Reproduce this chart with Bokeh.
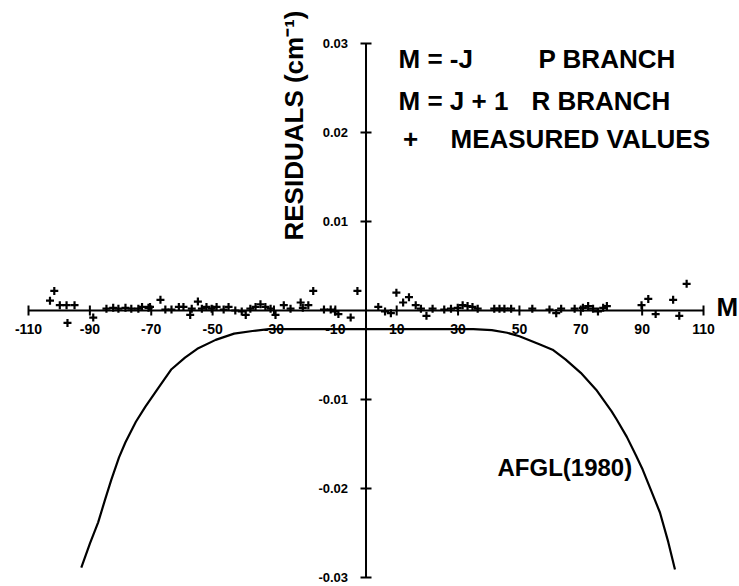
import numpy as np
from bokeh.plotting import figure
from bokeh.models import Range1d
from bokeh.core.properties import value
from bokeh.embed import file_html
from bokeh.resources import INLINE

# ---------------- data ----------------
x_ticks = [-110, -90, -70, -50, -30, -10, 10, 30, 50, 70, 90, 110]
x_tick_labels = ["-110", "-90", "-70", "-50", "-30", "-10", "10", "30", "50", "70", "90", "110"]
y_ticks = [0.03, 0.02, 0.01, -0.01, -0.02, -0.03]
y_tick_labels = ["0.03", "0.02", "0.01", "-0.01", "-0.02", "-0.03"]

measured_m = [-103, -101.6, -99.8, -97.6, -97.3, -95, -88.9, -84.6, -82.4, -80.7,
              -78.4, -76.5, -74.2, -73, -70.9, -70.4, -67, -65.4, -63.4, -61,
              -59.5, -57.3, -56.8, -54.8, -53.5, -52, -50.3, -48.7, -46.4, -44.8,
              -42.6, -40.5, -39.2, -37.7, -36, -34.4, -32.8, -31.1, -29.5, -26.8,
              -24.6, -21.3, -20.6, -18.8, -17.2, -13.7, -11.5, -10.1, -9, -5,
              -2.8,
              4, 6.2, 8.1, 9.9, 12.1, 14, 16.2, 17.9, 19.7, 21.7,
              25.5, 27.7, 29.9, 31.5, 33.1, 34.7, 36.4, 41.8, 43.5, 45.1,
              47.3, 54.2, 59.8, 62, 63.6, 68, 70.7, 72.4, 74, 75.6,
              77.3, 78.5, 89.8, 92, 94.4, 100.1, 102.1, 104.5]
measured_res = [0.0011, 0.0022, 0.0006, 0.0006, -0.0014, 0.0006, -0.0008, 0.0002, 0.0003, 0.0002,
                0.0003, 0.0002, 0.0002, 0.0004, 0.0003, 0.0004, 0.0012, 0.0001, 0.0001, 0.0004,
                0.0004, -0.0005, 0.0002, 0.0010, 0.0002, 0.0004, 0.0002, 0.0004, 0.0001, 0.0004,
                0.0000, -0.0001, -0.0005, 0.0002, 0.0004, 0.0007, 0.0004, 0.0002, -0.0005, 0.0006,
                0.0002, 0.0009, 0.0003, 0.0006, 0.0022, 0.0001, 0.0001, -0.0001, -0.0004, -0.0008,
                0.0022,
                0.0004, -0.0001, -0.0003, 0.0020, 0.0009, 0.0015, 0.0006, 0.0002, -0.0006, 0.0002,
                0.0001, 0.0002, 0.0003, 0.0006, 0.0005, 0.0004, 0.0002, 0.0002, 0.0002, 0.0002,
                0.0002, 0.0002, 0.0001, -0.0003, 0.0002, 0.0002, 0.0003, 0.0005, 0.0002, -0.0001,
                0.0003, 0.0005, 0.0006, 0.0013, -0.0004, 0.0012, -0.0006, 0.0030]

afgl_m = [-92.8, -90, -87.3, -85, -83, -80.5, -78.4, -75, -71.9, -67.5,
          -63.4, -59, -55, -49, -43, -37, -31.7, -20, 0, 20,
          35, 41, 46, 50, 56.5, 60.8, 65, 70, 75, 80,
          81.7, 85, 88, 90.2, 93, 95.8, 98.5, 100.7]
afgl_res = [-0.0289, -0.0262, -0.0238, -0.0212, -0.0190, -0.0165, -0.0148, -0.0125, -0.0108, -0.0086,
            -0.0066, -0.0053, -0.0043, -0.0033, -0.0026, -0.0023, -0.0021, -0.0021, -0.0021, -0.0021,
            -0.0021, -0.0022, -0.0025, -0.0029, -0.0038, -0.0044, -0.0055, -0.0070, -0.0089, -0.0113,
            -0.01225, -0.0142, -0.0163, -0.0179, -0.0203, -0.0227, -0.0260, -0.0291]

# ---------------- figure ----------------
W, H = 739, 586
XR = (-119.13, 121.73)
YR = (-0.031011, 0.034831)

def px2x(px):
    return XR[0] + px / W * (XR[1] - XR[0])

def py2y(py):
    return YR[1] - py / H * (YR[1] - YR[0])

FONT = value("Liberation Sans")
INK = "black"

p = figure(width=W, height=H, x_range=Range1d(*XR), y_range=Range1d(*YR),
           x_axis_type=None, y_axis_type=None, toolbar_location=None,
           output_backend="svg", min_border=0, title=None,
           outline_line_color=None)
p.background_fill_color = "white"
p.border_fill_color = "white"

# axes drawn through the scales
p.line([x_ticks[0], x_ticks[-1]], [0, 0], line_color=INK, line_width=2)
p.line([0, 0], [y_ticks[-1], y_ticks[0]], line_color=INK, line_width=2)
p.scatter(x=x_ticks, y=[0] * len(x_ticks), marker="dash", angle=np.pi / 2,
          size=10, line_width=2, line_color=INK)
p.scatter(x=[0] * len(y_ticks), y=y_ticks, marker="dash",
          size=11, line_width=2, line_color=INK)

p.text(x=x_ticks, y=[0] * len(x_ticks), text=x_tick_labels,
       text_align="center", text_baseline="middle", y_offset=19,
       text_font=FONT, text_font_style="bold", text_font_size="14px", text_color=INK)
p.text(x=[0] * len(y_ticks), y=y_ticks, text=y_tick_labels,
       text_align="right", text_baseline="middle", x_offset=-18,
       text_font=FONT, text_font_style="bold", text_font_size="13px", text_color=INK)

# axis titles
p.text(x=[x_ticks[-1]], y=[0], text=["M"], text_align="left", text_baseline="middle",
       x_offset=13, y_offset=-3, text_font=FONT, text_font_style="bold",
       text_font_size="26px", text_color=INK)
p.text(x=[px2x(293)], y=[py2y(125)], text=["RESIDUALS (cm\u207b\u00b9)"], angle=np.pi / 2,
       text_align="center", text_baseline="middle",
       text_font=FONT, text_font_style="bold", text_font_size="26px", text_color=INK)

# curve and measured points
p.line(afgl_m, afgl_res, line_color=INK, line_width=2.2)
p.scatter(measured_m, measured_res, marker="cross", size=8, line_width=2.2, line_color=INK)

# legend block
leg_font = "26px"
p.text(x=[px2x(398), px2x(398)], y=[py2y(58), py2y(100)], text=["M  =  -J", "M = J + 1"],
       text_align="left", text_baseline="middle", text_font=FONT, text_font_style="bold",
       text_font_size=leg_font, text_color=INK)
p.text(x=[px2x(538), px2x(531)], y=[py2y(58), py2y(100)], text=["P BRANCH", "R BRANCH"],
       text_align="left", text_baseline="middle", text_font=FONT, text_font_style="bold",
       text_font_size=leg_font, text_color=INK)
p.text(x=[px2x(410)], y=[py2y(138)], text=["+"], text_align="center", text_baseline="middle",
       text_font=FONT, text_font_style="bold", text_font_size=leg_font, text_color=INK)
p.text(x=[px2x(450)], y=[py2y(138)], text=["MEASURED VALUES"], text_align="left",
       text_baseline="middle", text_font=FONT, text_font_style="bold",
       text_font_size=leg_font, text_color=INK)

p.text(x=[px2x(497)], y=[py2y(467)], text=["AFGL(1980)"], text_align="left",
       text_baseline="middle", text_font=FONT, text_font_style="bold",
       text_font_size="24px", text_color=INK)

open("out.html", "w").write(file_html(p, INLINE))
